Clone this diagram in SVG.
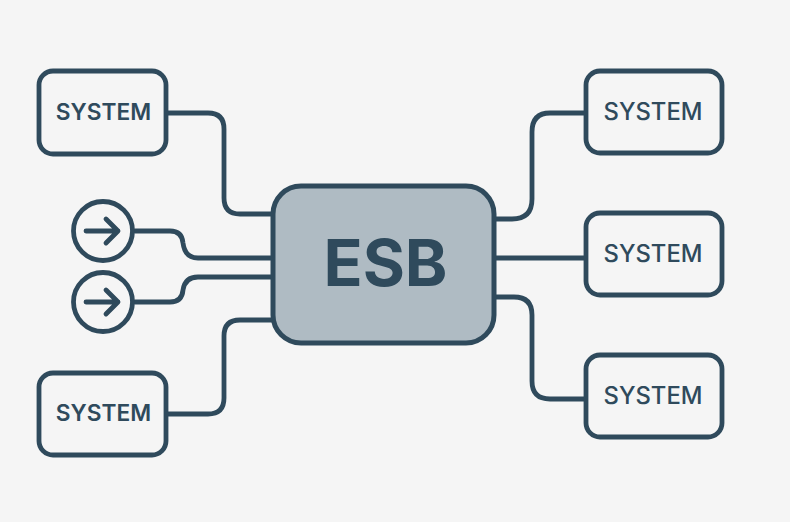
<svg xmlns="http://www.w3.org/2000/svg" width="790" height="522" viewBox="0 0 790 522">
<style>
.b{fill:#f5f5f5;stroke:#2f4a5c;stroke-width:4.800}
.l{fill:none;stroke:#2f4a5c;stroke-width:4.800;stroke-linecap:round;stroke-linejoin:round}
.t{font-family:Inter,"Noto Sans",sans-serif;font-weight:600;font-size:22.700px;fill:#2f4a5c;text-anchor:middle}
.r{font-weight:500;font-size:23.800px}
</style>
<rect width="790" height="522" fill="#f5f5f5"/>
<g id="connectors" class="l">
<path d="M167 113H208Q224 113 224 129V198Q224 214 240 214H273"/>
<path d="M135 231H170Q182 231 183 243Q185 258 198 258H273"/>
<path d="M135 302H170Q182 302 183 290Q185 277 198 277H273"/>
<path d="M167 414H208Q224 414 224 398V336Q224 320 240 320H273"/>
<path d="M495 219H512Q532 219 532 199V132Q532 113 550 113H585"/>
<path d="M495 258H585"/>
<path d="M495 297H514Q532 297 532 315V381Q532 399 550 399H585"/>
</g>
<g id="esb"><rect x="273" y="186" width="221" height="157" rx="28" fill="#afbbc3" stroke="#2f4a5c" stroke-width="5"/><text x="385.500" y="286" style="font-family:Inter,'Noto Sans',sans-serif;font-weight:700;font-size:64.500px;fill:#2f4a5c;text-anchor:middle">ESB</text></g>
<g id="sys-l1"><rect class="b" x="39" y="71" width="127" height="83" rx="14"/><text class="t" x="103.500" y="120">SYSTEM</text></g>
<g id="sys-l2"><rect class="b" x="39" y="373" width="127" height="82" rx="14"/><text class="t" x="103.500" y="421">SYSTEM</text></g>
<g id="sys-r1"><rect class="b" x="586" y="71" width="136" height="82" rx="14"/><text class="t r" x="653" y="120">SYSTEM</text></g>
<g id="sys-r2"><rect class="b" x="586" y="213" width="136" height="82" rx="14"/><text class="t r" x="653" y="262">SYSTEM</text></g>
<g id="sys-r3"><rect class="b" x="586" y="355" width="136" height="82" rx="14"/><text class="t r" x="653" y="404">SYSTEM</text></g>
<g id="in1"><circle class="b" cx="103" cy="231" r="29.500"/><path class="l" d="M86 231H118M106 219L118 231L106 243"/></g>
<g id="in2"><circle class="b" cx="103" cy="302" r="29.500"/><path class="l" d="M86 302H118M106 290L118 302L106 314"/></g>
</svg>
